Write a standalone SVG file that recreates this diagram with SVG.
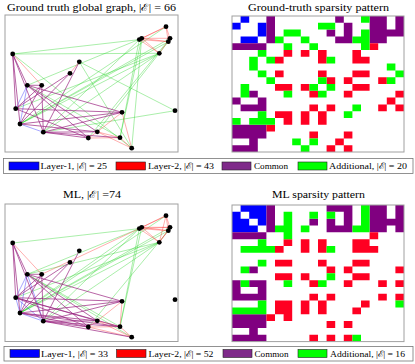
<svg xmlns="http://www.w3.org/2000/svg" width="415" height="364" viewBox="0 0 415 364">
<style>
text{font-family:"Liberation Serif","DejaVu Serif",serif;fill:#000}
.t{font-size:10px}
.l{font-size:9px}
.frame{fill:#fff;stroke:#a0a0a0;stroke-width:1}
.mframe{fill:none;stroke:#a0a0a0;stroke-width:1}
.lbox{fill:#fff;stroke:#777;stroke-width:.8}
.sw{stroke:#222;stroke-width:.6}
.g line{stroke:#1ed21e;stroke-opacity:.5;stroke-width:.75}
.r line{stroke:#ff2020;stroke-opacity:.45;stroke-width:.8}
.b line{stroke:#2020ff;stroke-opacity:.5;stroke-width:.8}
.p line{stroke:#9a2480;stroke-opacity:.7;stroke-width:1}
.n circle{fill:#000}
</style>

<!-- Titles -->
<text class="t" x="7" y="10.5" textLength="169" lengthAdjust="spacingAndGlyphs">Ground truth global graph, |ℰ| = 66</text>
<text class="t" x="248" y="10.5" textLength="141" lengthAdjust="spacingAndGlyphs">Ground-truth sparsity pattern</text>
<text class="t" x="63" y="197.5" textLength="58" lengthAdjust="spacingAndGlyphs">ML, |ℰ| =74</text>
<text class="t" x="272" y="197.5" textLength="93" lengthAdjust="spacingAndGlyphs">ML sparsity pattern</text>

<!-- Graph frames -->
<rect class="frame" x="5" y="15" width="173" height="137"/>
<rect class="frame" x="5" y="204" width="173" height="137.5"/>

<!-- Ground truth connectors -->
<g id="connectors-gt">
<g class="g">
<line x1="15.7" y1="108.7" x2="159.3" y2="53.3"/>
<line x1="27.3" y1="85.3" x2="141.7" y2="38.3"/>
<line x1="27.3" y1="85.3" x2="120" y2="137.7"/>
<line x1="43.3" y1="132.2" x2="139.3" y2="39.6"/>
<line x1="43.3" y1="132.2" x2="175" y2="110.7"/>
<line x1="43.3" y1="132.2" x2="159.3" y2="53.3"/>
<line x1="20" y1="124" x2="166" y2="26.7"/>
<line x1="20" y1="124" x2="170" y2="38.3"/>
<line x1="20" y1="124" x2="168.3" y2="41.7"/>
<line x1="20" y1="124" x2="159.3" y2="53.3"/>
<line x1="12.7" y1="54" x2="139.3" y2="39.6"/>
<line x1="12.7" y1="54" x2="131.7" y2="148.2"/>
<line x1="12.7" y1="54" x2="159.3" y2="53.3"/>
<line x1="139.3" y1="39.6" x2="120" y2="137.7"/>
<line x1="175" y1="110.7" x2="79.3" y2="61.8"/>
<line x1="170" y1="38.3" x2="88.3" y2="138"/>
<line x1="131.7" y1="148.2" x2="141.7" y2="38.3"/>
<line x1="131.7" y1="148.2" x2="79.3" y2="61.8"/>
<line x1="141.7" y1="38.3" x2="120" y2="137.7"/>
<line x1="97.3" y1="131.8" x2="168.3" y2="41.7"/>
</g>
<g class="r">
<line x1="12.7" y1="54" x2="41.7" y2="85.3"/>
<line x1="166" y1="26.7" x2="139.3" y2="39.6"/>
<line x1="166" y1="26.7" x2="170" y2="38.3"/>
<line x1="166" y1="26.7" x2="141.7" y2="38.3"/>
<line x1="166" y1="26.7" x2="168.3" y2="41.7"/>
<line x1="139.3" y1="39.6" x2="141.7" y2="38.3"/>
<line x1="139.3" y1="39.6" x2="168.3" y2="41.7"/>
<line x1="139.3" y1="39.6" x2="159.3" y2="53.3"/>
<line x1="170" y1="38.3" x2="141.7" y2="38.3"/>
<line x1="170" y1="38.3" x2="168.3" y2="41.7"/>
<line x1="170" y1="38.3" x2="159.3" y2="53.3"/>
<line x1="131.7" y1="148.2" x2="120" y2="137.7"/>
<line x1="131.7" y1="148.2" x2="97.3" y2="131.8"/>
<line x1="131.7" y1="148.2" x2="122" y2="112.3"/>
<line x1="141.7" y1="38.3" x2="168.3" y2="41.7"/>
<line x1="141.7" y1="38.3" x2="159.3" y2="53.3"/>
<line x1="120" y1="137.7" x2="97.3" y2="131.8"/>
<line x1="120" y1="137.7" x2="88.3" y2="138"/>
<line x1="70" y1="73.3" x2="79.3" y2="61.8"/>
<line x1="97.3" y1="131.8" x2="122" y2="112.3"/>
<line x1="97.3" y1="131.8" x2="88.3" y2="138"/>
</g>
<g class="b">
<line x1="15.7" y1="108.7" x2="27.3" y2="85.3"/>
<line x1="27.3" y1="85.3" x2="20" y2="124"/>
<line x1="43.3" y1="132.2" x2="20" y2="124"/>
</g>
<g class="p">
<line x1="15.7" y1="108.7" x2="12.7" y2="54"/>
<line x1="15.7" y1="108.7" x2="70" y2="73.3"/>
<line x1="15.7" y1="108.7" x2="41.7" y2="85.3"/>
<line x1="15.7" y1="108.7" x2="122" y2="112.3"/>
<line x1="15.7" y1="108.7" x2="88.3" y2="138"/>
<line x1="27.3" y1="85.3" x2="12.7" y2="54"/>
<line x1="27.3" y1="85.3" x2="97.3" y2="131.8"/>
<line x1="27.3" y1="85.3" x2="41.7" y2="85.3"/>
<line x1="27.3" y1="85.3" x2="122" y2="112.3"/>
<line x1="27.3" y1="85.3" x2="88.3" y2="138"/>
<line x1="43.3" y1="132.2" x2="12.7" y2="54"/>
<line x1="43.3" y1="132.2" x2="120" y2="137.7"/>
<line x1="43.3" y1="132.2" x2="97.3" y2="131.8"/>
<line x1="43.3" y1="132.2" x2="41.7" y2="85.3"/>
<line x1="43.3" y1="132.2" x2="122" y2="112.3"/>
<line x1="43.3" y1="132.2" x2="79.3" y2="61.8"/>
<line x1="43.3" y1="132.2" x2="88.3" y2="138"/>
<line x1="20" y1="124" x2="12.7" y2="54"/>
<line x1="20" y1="124" x2="70" y2="73.3"/>
<line x1="20" y1="124" x2="97.3" y2="131.8"/>
<line x1="20" y1="124" x2="41.7" y2="85.3"/>
<line x1="20" y1="124" x2="122" y2="112.3"/>
</g>
</g>

<!-- Ground truth nodes -->
<g class="n">
<g id="gt-n0"><circle cx="15.7" cy="108.7" r="2.4"/></g>
<g id="gt-n1"><circle cx="27.3" cy="85.3" r="2.4"/></g>
<g id="gt-n2"><circle cx="43.3" cy="132.2" r="2.4"/></g>
<g id="gt-n3"><circle cx="20" cy="124" r="2.4"/></g>
<g id="gt-n4"><circle cx="12.7" cy="54" r="2.4"/></g>
<g id="gt-n5"><circle cx="166" cy="26.7" r="2.4"/></g>
<g id="gt-n6"><circle cx="139.3" cy="39.6" r="2.4"/></g>
<g id="gt-n7"><circle cx="175" cy="110.7" r="2.4"/></g>
<g id="gt-n8"><circle cx="170" cy="38.3" r="2.4"/></g>
<g id="gt-n9"><circle cx="131.7" cy="148.2" r="2.4"/></g>
<g id="gt-n10"><circle cx="141.7" cy="38.3" r="2.4"/></g>
<g id="gt-n11"><circle cx="120" cy="137.7" r="2.4"/></g>
<g id="gt-n12"><circle cx="70" cy="73.3" r="2.4"/></g>
<g id="gt-n13"><circle cx="97.3" cy="131.8" r="2.4"/></g>
<g id="gt-n14"><circle cx="168.3" cy="41.7" r="2.4"/></g>
<g id="gt-n15"><circle cx="159.3" cy="53.3" r="2.4"/></g>
<g id="gt-n16"><circle cx="41.7" cy="85.3" r="2.4"/></g>
<g id="gt-n17"><circle cx="122" cy="112.3" r="2.4"/></g>
<g id="gt-n18"><circle cx="79.3" cy="61.8" r="2.4"/></g>
<g id="gt-n19"><circle cx="88.3" cy="138" r="2.4"/></g>
</g>

<!-- ML connectors -->
<g id="connectors-ml" transform="translate(0,189)">
<g class="g">
<line x1="15.7" y1="108.7" x2="159.3" y2="53.3"/>
<line x1="27.3" y1="85.3" x2="139.3" y2="39.6"/>
<line x1="27.3" y1="85.3" x2="131.7" y2="148.2"/>
<line x1="27.3" y1="85.3" x2="120" y2="137.7"/>
<line x1="27.3" y1="85.3" x2="159.3" y2="53.3"/>
<line x1="43.3" y1="132.2" x2="139.3" y2="39.6"/>
<line x1="43.3" y1="132.2" x2="159.3" y2="53.3"/>
<line x1="20" y1="124" x2="166" y2="26.7"/>
<line x1="20" y1="124" x2="139.3" y2="39.6"/>
<line x1="20" y1="124" x2="170" y2="38.3"/>
<line x1="20" y1="124" x2="168.3" y2="41.7"/>
<line x1="20" y1="124" x2="159.3" y2="53.3"/>
<line x1="12.7" y1="54" x2="139.3" y2="39.6"/>
<line x1="139.3" y1="39.6" x2="120" y2="137.7"/>
<line x1="141.7" y1="38.3" x2="120" y2="137.7"/>
<line x1="168.3" y1="41.7" x2="88.3" y2="138"/>
</g>
<g class="r">
<line x1="12.7" y1="54" x2="41.7" y2="85.3"/>
<line x1="166" y1="26.7" x2="139.3" y2="39.6"/>
<line x1="166" y1="26.7" x2="170" y2="38.3"/>
<line x1="166" y1="26.7" x2="141.7" y2="38.3"/>
<line x1="166" y1="26.7" x2="168.3" y2="41.7"/>
<line x1="166" y1="26.7" x2="159.3" y2="53.3"/>
<line x1="139.3" y1="39.6" x2="170" y2="38.3"/>
<line x1="139.3" y1="39.6" x2="141.7" y2="38.3"/>
<line x1="139.3" y1="39.6" x2="168.3" y2="41.7"/>
<line x1="139.3" y1="39.6" x2="159.3" y2="53.3"/>
<line x1="139.3" y1="39.6" x2="41.7" y2="85.3"/>
<line x1="170" y1="38.3" x2="141.7" y2="38.3"/>
<line x1="170" y1="38.3" x2="168.3" y2="41.7"/>
<line x1="170" y1="38.3" x2="159.3" y2="53.3"/>
<line x1="131.7" y1="148.2" x2="120" y2="137.7"/>
<line x1="131.7" y1="148.2" x2="97.3" y2="131.8"/>
<line x1="131.7" y1="148.2" x2="88.3" y2="138"/>
<line x1="141.7" y1="38.3" x2="168.3" y2="41.7"/>
<line x1="141.7" y1="38.3" x2="159.3" y2="53.3"/>
<line x1="120" y1="137.7" x2="97.3" y2="131.8"/>
<line x1="120" y1="137.7" x2="122" y2="112.3"/>
<line x1="120" y1="137.7" x2="88.3" y2="138"/>
<line x1="97.3" y1="131.8" x2="122" y2="112.3"/>
<line x1="97.3" y1="131.8" x2="88.3" y2="138"/>
<line x1="168.3" y1="41.7" x2="159.3" y2="53.3"/>
</g>
<g class="b">
<line x1="15.7" y1="108.7" x2="27.3" y2="85.3"/>
<line x1="15.7" y1="108.7" x2="43.3" y2="132.2"/>
<line x1="15.7" y1="108.7" x2="20" y2="124"/>
<line x1="27.3" y1="85.3" x2="43.3" y2="132.2"/>
<line x1="27.3" y1="85.3" x2="20" y2="124"/>
<line x1="43.3" y1="132.2" x2="20" y2="124"/>
</g>
<g class="p">
<line x1="15.7" y1="108.7" x2="12.7" y2="54"/>
<line x1="15.7" y1="108.7" x2="120" y2="137.7"/>
<line x1="15.7" y1="108.7" x2="70" y2="73.3"/>
<line x1="15.7" y1="108.7" x2="97.3" y2="131.8"/>
<line x1="15.7" y1="108.7" x2="41.7" y2="85.3"/>
<line x1="15.7" y1="108.7" x2="122" y2="112.3"/>
<line x1="15.7" y1="108.7" x2="88.3" y2="138"/>
<line x1="27.3" y1="85.3" x2="12.7" y2="54"/>
<line x1="27.3" y1="85.3" x2="97.3" y2="131.8"/>
<line x1="27.3" y1="85.3" x2="41.7" y2="85.3"/>
<line x1="27.3" y1="85.3" x2="122" y2="112.3"/>
<line x1="27.3" y1="85.3" x2="88.3" y2="138"/>
<line x1="43.3" y1="132.2" x2="12.7" y2="54"/>
<line x1="43.3" y1="132.2" x2="131.7" y2="148.2"/>
<line x1="43.3" y1="132.2" x2="120" y2="137.7"/>
<line x1="43.3" y1="132.2" x2="97.3" y2="131.8"/>
<line x1="43.3" y1="132.2" x2="41.7" y2="85.3"/>
<line x1="43.3" y1="132.2" x2="122" y2="112.3"/>
<line x1="43.3" y1="132.2" x2="79.3" y2="61.8"/>
<line x1="43.3" y1="132.2" x2="88.3" y2="138"/>
<line x1="20" y1="124" x2="12.7" y2="54"/>
<line x1="20" y1="124" x2="120" y2="137.7"/>
<line x1="20" y1="124" x2="70" y2="73.3"/>
<line x1="20" y1="124" x2="97.3" y2="131.8"/>
<line x1="20" y1="124" x2="41.7" y2="85.3"/>
<line x1="20" y1="124" x2="122" y2="112.3"/>
<line x1="20" y1="124" x2="88.3" y2="138"/>
</g>
</g>

<!-- ML nodes -->
<g class="n" transform="translate(0,189)">
<g id="ml-n0"><circle cx="15.7" cy="108.7" r="2.4"/></g>
<g id="ml-n1"><circle cx="27.3" cy="85.3" r="2.4"/></g>
<g id="ml-n2"><circle cx="43.3" cy="132.2" r="2.4"/></g>
<g id="ml-n3"><circle cx="20" cy="124" r="2.4"/></g>
<g id="ml-n4"><circle cx="12.7" cy="54" r="2.4"/></g>
<g id="ml-n5"><circle cx="166" cy="26.7" r="2.4"/></g>
<g id="ml-n6"><circle cx="139.3" cy="39.6" r="2.4"/></g>
<g id="ml-n7"><circle cx="175" cy="110.7" r="2.4"/></g>
<g id="ml-n8"><circle cx="170" cy="38.3" r="2.4"/></g>
<g id="ml-n9"><circle cx="131.7" cy="148.2" r="2.4"/></g>
<g id="ml-n10"><circle cx="141.7" cy="38.3" r="2.4"/></g>
<g id="ml-n11"><circle cx="120" cy="137.7" r="2.4"/></g>
<g id="ml-n12"><circle cx="70" cy="73.3" r="2.4"/></g>
<g id="ml-n13"><circle cx="97.3" cy="131.8" r="2.4"/></g>
<g id="ml-n14"><circle cx="168.3" cy="41.7" r="2.4"/></g>
<g id="ml-n15"><circle cx="159.3" cy="53.3" r="2.4"/></g>
<g id="ml-n16"><circle cx="41.7" cy="85.3" r="2.4"/></g>
<g id="ml-n17"><circle cx="122" cy="112.3" r="2.4"/></g>
<g id="ml-n18"><circle cx="79.3" cy="61.8" r="2.4"/></g>
<g id="ml-n19"><circle cx="88.3" cy="138" r="2.4"/></g>
</g>

<!-- Ground-truth sparsity matrix -->
<g id="gt-matrix">
<rect x="232" y="16" width="172" height="136" fill="#fff"/>
<g transform="translate(232,16) scale(8.6,6.8)">
<path fill="#0000ff" d="M1 0h1v1h-1zM0 1h1v1h-1zM3 1h1v1h-1zM1 3h1v1h-1zM3 2h1v1h-1zM2 3h1v1h-1z"/>
<path fill="#800080" d="M4 0h1v1h-1zM0 4h1v1h-1zM12 0h1v1h-1zM0 12h1v1h-1zM16 0h1v1h-1zM0 16h1v1h-1zM17 0h1v1h-1zM0 17h1v1h-1zM19 0h1v1h-1zM0 19h1v1h-1zM4 1h1v1h-1zM1 4h1v1h-1zM13 1h1v1h-1zM1 13h1v1h-1zM16 1h1v1h-1zM1 16h1v1h-1zM17 1h1v1h-1zM1 17h1v1h-1zM19 1h1v1h-1zM1 19h1v1h-1zM4 2h1v1h-1zM2 4h1v1h-1zM11 2h1v1h-1zM2 11h1v1h-1zM13 2h1v1h-1zM2 13h1v1h-1zM16 2h1v1h-1zM2 16h1v1h-1zM17 2h1v1h-1zM2 17h1v1h-1zM18 2h1v1h-1zM2 18h1v1h-1zM19 2h1v1h-1zM2 19h1v1h-1zM4 3h1v1h-1zM3 4h1v1h-1zM12 3h1v1h-1zM3 12h1v1h-1zM13 3h1v1h-1zM3 13h1v1h-1zM16 3h1v1h-1zM3 16h1v1h-1zM17 3h1v1h-1zM3 17h1v1h-1z"/>
<path fill="#ff0022" d="M16 4h1v1h-1zM4 16h1v1h-1zM6 5h1v1h-1zM5 6h1v1h-1zM8 5h1v1h-1zM5 8h1v1h-1zM10 5h1v1h-1zM5 10h1v1h-1zM14 5h1v1h-1zM5 14h1v1h-1zM10 6h1v1h-1zM6 10h1v1h-1zM14 6h1v1h-1zM6 14h1v1h-1zM15 6h1v1h-1zM6 15h1v1h-1zM10 8h1v1h-1zM8 10h1v1h-1zM14 8h1v1h-1zM8 14h1v1h-1zM15 8h1v1h-1zM8 15h1v1h-1zM11 9h1v1h-1zM9 11h1v1h-1zM13 9h1v1h-1zM9 13h1v1h-1zM17 9h1v1h-1zM9 17h1v1h-1zM14 10h1v1h-1zM10 14h1v1h-1zM15 10h1v1h-1zM10 15h1v1h-1zM13 11h1v1h-1zM11 13h1v1h-1zM19 11h1v1h-1zM11 19h1v1h-1zM18 12h1v1h-1zM12 18h1v1h-1zM17 13h1v1h-1zM13 17h1v1h-1zM19 13h1v1h-1zM13 19h1v1h-1z"/>
<path fill="#00ff00" d="M15 0h1v1h-1zM0 15h1v1h-1zM10 1h1v1h-1zM1 10h1v1h-1zM11 1h1v1h-1zM1 11h1v1h-1zM6 2h1v1h-1zM2 6h1v1h-1zM7 2h1v1h-1zM2 7h1v1h-1zM15 2h1v1h-1zM2 15h1v1h-1zM5 3h1v1h-1zM3 5h1v1h-1zM8 3h1v1h-1zM3 8h1v1h-1zM14 3h1v1h-1zM3 14h1v1h-1zM15 3h1v1h-1zM3 15h1v1h-1zM6 4h1v1h-1zM4 6h1v1h-1zM9 4h1v1h-1zM4 9h1v1h-1zM15 4h1v1h-1zM4 15h1v1h-1zM11 6h1v1h-1zM6 11h1v1h-1zM18 7h1v1h-1zM7 18h1v1h-1zM19 8h1v1h-1zM8 19h1v1h-1zM10 9h1v1h-1zM9 10h1v1h-1zM18 9h1v1h-1zM9 18h1v1h-1zM11 10h1v1h-1zM10 11h1v1h-1zM14 13h1v1h-1zM13 14h1v1h-1z"/>
</g>
<rect class="mframe" x="232" y="16" width="172" height="136"/>
</g>

<!-- ML sparsity matrix -->
<g id="ml-matrix">
<rect x="232" y="205" width="172" height="136.6" fill="#fff"/>
<g transform="translate(232,205) scale(8.6,6.83)">
<path fill="#0000ff" d="M1 0h1v1h-1zM0 1h1v1h-1zM2 0h1v1h-1zM0 2h1v1h-1zM3 0h1v1h-1zM0 3h1v1h-1zM2 1h1v1h-1zM1 2h1v1h-1zM3 1h1v1h-1zM1 3h1v1h-1zM3 2h1v1h-1zM2 3h1v1h-1z"/>
<path fill="#800080" d="M4 0h1v1h-1zM0 4h1v1h-1zM11 0h1v1h-1zM0 11h1v1h-1zM12 0h1v1h-1zM0 12h1v1h-1zM13 0h1v1h-1zM0 13h1v1h-1zM16 0h1v1h-1zM0 16h1v1h-1zM17 0h1v1h-1zM0 17h1v1h-1zM19 0h1v1h-1zM0 19h1v1h-1zM4 1h1v1h-1zM1 4h1v1h-1zM13 1h1v1h-1zM1 13h1v1h-1zM16 1h1v1h-1zM1 16h1v1h-1zM17 1h1v1h-1zM1 17h1v1h-1zM19 1h1v1h-1zM1 19h1v1h-1zM4 2h1v1h-1zM2 4h1v1h-1zM9 2h1v1h-1zM2 9h1v1h-1zM11 2h1v1h-1zM2 11h1v1h-1zM13 2h1v1h-1zM2 13h1v1h-1zM16 2h1v1h-1zM2 16h1v1h-1zM17 2h1v1h-1zM2 17h1v1h-1zM18 2h1v1h-1zM2 18h1v1h-1zM19 2h1v1h-1zM2 19h1v1h-1zM4 3h1v1h-1zM3 4h1v1h-1zM11 3h1v1h-1zM3 11h1v1h-1zM12 3h1v1h-1zM3 12h1v1h-1zM13 3h1v1h-1zM3 13h1v1h-1zM16 3h1v1h-1zM3 16h1v1h-1zM17 3h1v1h-1zM3 17h1v1h-1zM19 3h1v1h-1zM3 19h1v1h-1z"/>
<path fill="#ff0022" d="M16 4h1v1h-1zM4 16h1v1h-1zM6 5h1v1h-1zM5 6h1v1h-1zM8 5h1v1h-1zM5 8h1v1h-1zM10 5h1v1h-1zM5 10h1v1h-1zM14 5h1v1h-1zM5 14h1v1h-1zM15 5h1v1h-1zM5 15h1v1h-1zM8 6h1v1h-1zM6 8h1v1h-1zM10 6h1v1h-1zM6 10h1v1h-1zM14 6h1v1h-1zM6 14h1v1h-1zM15 6h1v1h-1zM6 15h1v1h-1zM16 6h1v1h-1zM6 16h1v1h-1zM10 8h1v1h-1zM8 10h1v1h-1zM14 8h1v1h-1zM8 14h1v1h-1zM15 8h1v1h-1zM8 15h1v1h-1zM11 9h1v1h-1zM9 11h1v1h-1zM13 9h1v1h-1zM9 13h1v1h-1zM19 9h1v1h-1zM9 19h1v1h-1zM14 10h1v1h-1zM10 14h1v1h-1zM15 10h1v1h-1zM10 15h1v1h-1zM13 11h1v1h-1zM11 13h1v1h-1zM17 11h1v1h-1zM11 17h1v1h-1zM19 11h1v1h-1zM11 19h1v1h-1zM17 13h1v1h-1zM13 17h1v1h-1zM19 13h1v1h-1zM13 19h1v1h-1zM15 14h1v1h-1zM14 15h1v1h-1z"/>
<path fill="#00ff00" d="M15 0h1v1h-1zM0 15h1v1h-1zM6 1h1v1h-1zM1 6h1v1h-1zM9 1h1v1h-1zM1 9h1v1h-1zM11 1h1v1h-1zM1 11h1v1h-1zM15 1h1v1h-1zM1 15h1v1h-1zM6 2h1v1h-1zM2 6h1v1h-1zM15 2h1v1h-1zM2 15h1v1h-1zM5 3h1v1h-1zM3 5h1v1h-1zM6 3h1v1h-1zM3 6h1v1h-1zM8 3h1v1h-1zM3 8h1v1h-1zM14 3h1v1h-1zM3 14h1v1h-1zM15 3h1v1h-1zM3 15h1v1h-1zM6 4h1v1h-1zM4 6h1v1h-1zM11 6h1v1h-1zM6 11h1v1h-1zM11 10h1v1h-1zM10 11h1v1h-1zM19 14h1v1h-1zM14 19h1v1h-1z"/>
</g>
<rect class="mframe" x="232" y="205" width="172" height="136.6"/>
</g>

<!-- Legend: ground truth -->
<g id="legend-gt">
<rect class="lbox" x="3.5" y="158.5" width="409.5" height="15"/>
<rect class="sw" x="9" y="162" width="30" height="8" fill="#0000ff"/>
<text class="l" x="40.5" y="168.8" textLength="66.5" lengthAdjust="spacingAndGlyphs">Layer-1, |ℰ| = 25</text>
<rect class="sw" x="116" y="162" width="29.5" height="8" fill="#ff0000"/>
<text class="l" x="148" y="168.8" textLength="66" lengthAdjust="spacingAndGlyphs">Layer-2, |ℰ| = 43</text>
<rect class="sw" x="222" y="162" width="29" height="8" fill="#7f2a8a"/>
<text class="l" x="254" y="168.8" textLength="34" lengthAdjust="spacingAndGlyphs">Common</text>
<rect class="sw" x="298" y="162" width="29" height="8" fill="#00ff00"/>
<text class="l" x="329" y="168.8" textLength="78" lengthAdjust="spacingAndGlyphs">Additional, |ℰ| = 20</text>
</g>

<!-- Legend: ML -->
<g id="legend-ml">
<rect class="lbox" x="4" y="346.5" width="409" height="14.5"/>
<rect class="sw" x="10" y="349.5" width="29.5" height="8" fill="#0000ff"/>
<text class="l" x="41" y="357" textLength="67" lengthAdjust="spacingAndGlyphs">Layer-1, |ℰ| = 33</text>
<rect class="sw" x="116.5" y="349.5" width="29.5" height="8" fill="#ff0000"/>
<text class="l" x="148.5" y="357" textLength="65" lengthAdjust="spacingAndGlyphs">Layer-2, |ℰ| = 52</text>
<rect class="sw" x="223" y="349.5" width="29" height="8" fill="#7f2a8a"/>
<text class="l" x="254.5" y="357" textLength="34" lengthAdjust="spacingAndGlyphs">Common</text>
<rect class="sw" x="298" y="349.5" width="29" height="8" fill="#00ff00"/>
<text class="l" x="330" y="357" textLength="75" lengthAdjust="spacingAndGlyphs">Additional, |ℰ| = 16</text>
</g>
</svg>
